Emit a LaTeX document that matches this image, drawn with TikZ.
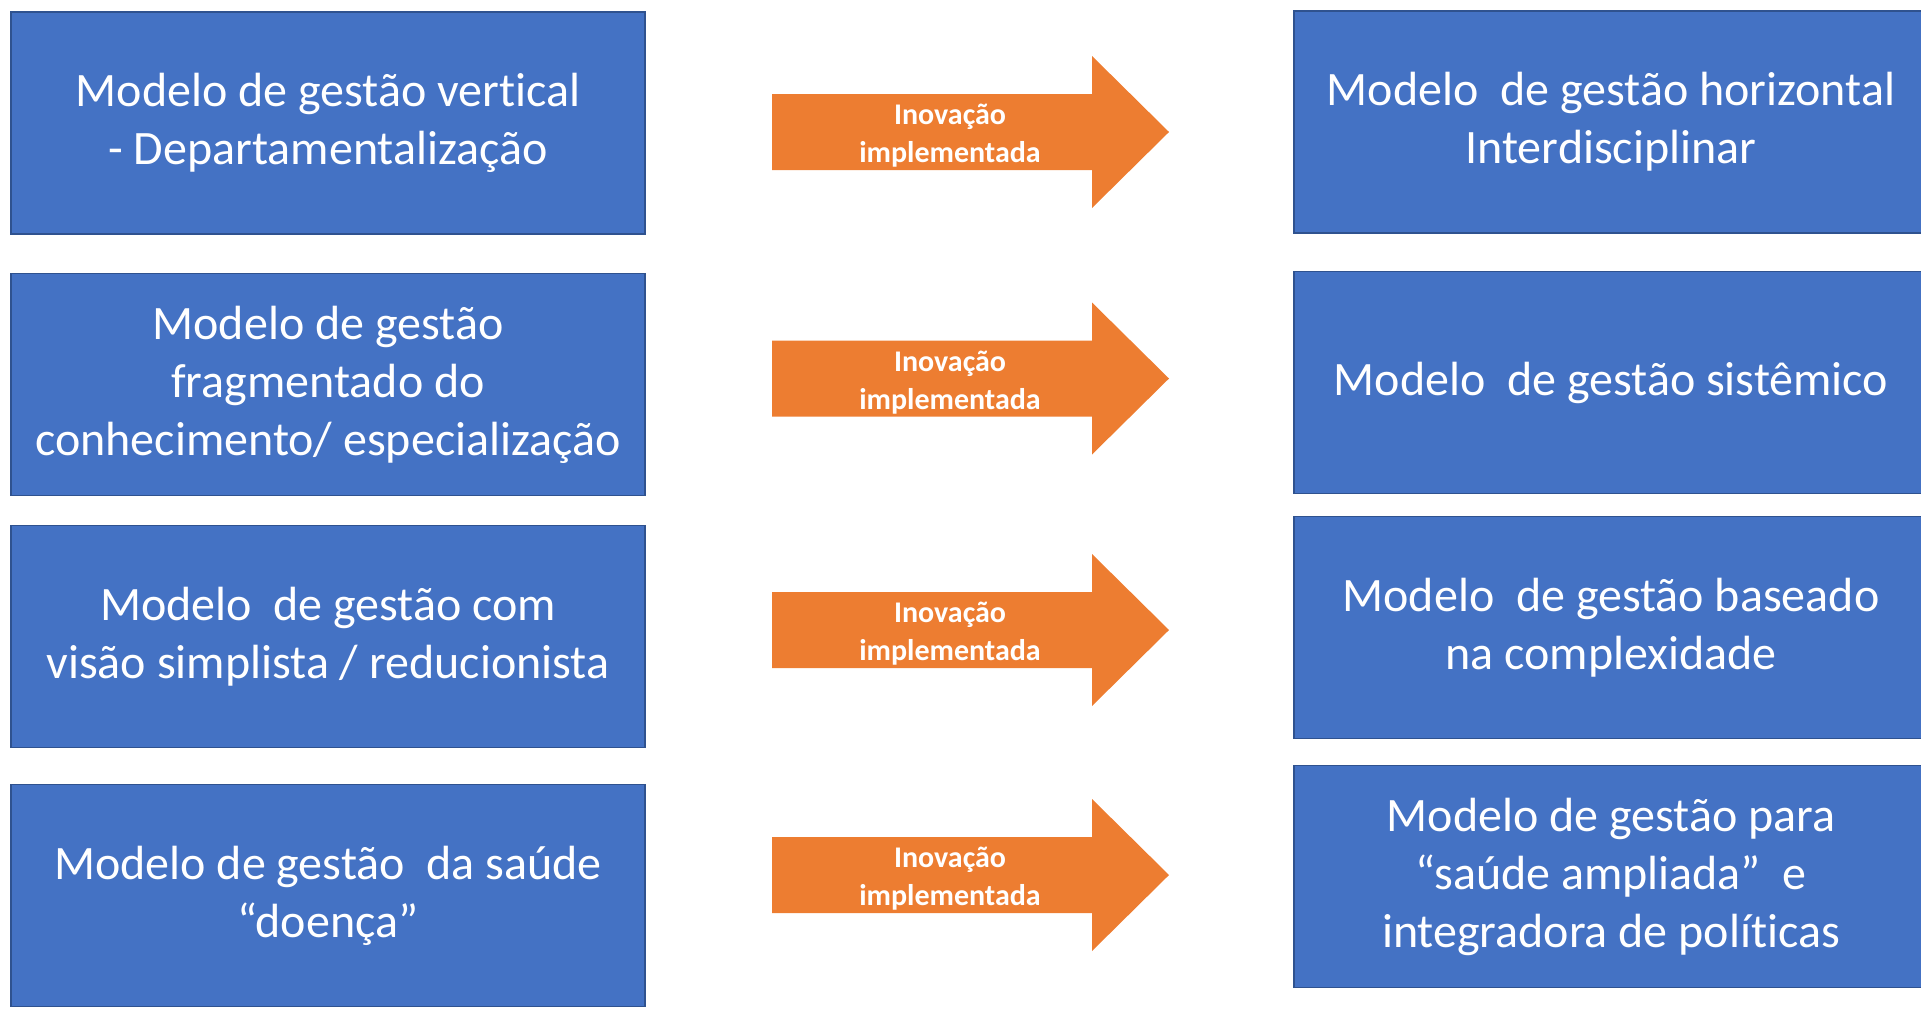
\documentclass[tikz,border=0pt]{standalone}
\usepackage{fontspec}
\setmainfont{Carlito}[Ligatures=NoCommon]
\definecolor{boxblue}{HTML}{4472C4}
\definecolor{boxedge}{HTML}{2F528F}
\definecolor{arroworange}{HTML}{ED7D31}

\begin{document}
\begin{tikzpicture}[x=1pt,y=-1pt,
  model/.style={draw=boxedge, line width=1.8pt, fill=boxblue, text=white,
    minimum width=634pt, minimum height=222pt, inner sep=0pt, align=center,
    font=\fontsize{48}{58}\selectfont},
  inovtext/.style={text=white, align=center, inner sep=0pt,
    font=\fontsize{30}{38}\selectfont\bfseries}]
  \useasboundingbox (0,0) rectangle (1921,1010);
  \node[model] (vertical) at (328,123) {Modelo de gestão vertical\\- Departamentalização};
  \node[model] (fragmentado) at (328,384.5) {Modelo de gestão\\fragmentado do\\conhecimento/ especialização};
  \node[model] (simplista) at (328,636.5) {Modelo\ \ de gestão com\\visão simplista / reducionista};
  \node[model] (doenca) at (328,895.5) {Modelo de gestão\ \ da saúde\\“doença”};
  \node[model] (horizontal) at (1611,122) {Modelo\ \ de gestão horizontal\\Interdisciplinar};
  \node[model] (sistemico) at (1611,382.5) {Modelo\ \ de gestão sistêmico};
  \node[model] (complexidade) at (1611,627.5) {Modelo\ \ de gestão baseado\\na complexidade};
  \node[model] (ampliada) at (1611,876.5) {Modelo de gestão para\\“saúde ampliada”\ \ e\\integradora de políticas};
  \foreach \y/\n in {132/a,378.5/b,630/c,875/d} {
    \fill[arroworange] (772,\y-38) -- (1092,\y-38) -- (1092,\y-76) -- (1169,\y)
      -- (1092,\y+76) -- (1092,\y+38) -- (772,\y+38) -- cycle;
    \node[inovtext] (inovacao\n) at (950,\y+4) {Inovação\\implementada};
  }
\end{tikzpicture}
\end{document}
